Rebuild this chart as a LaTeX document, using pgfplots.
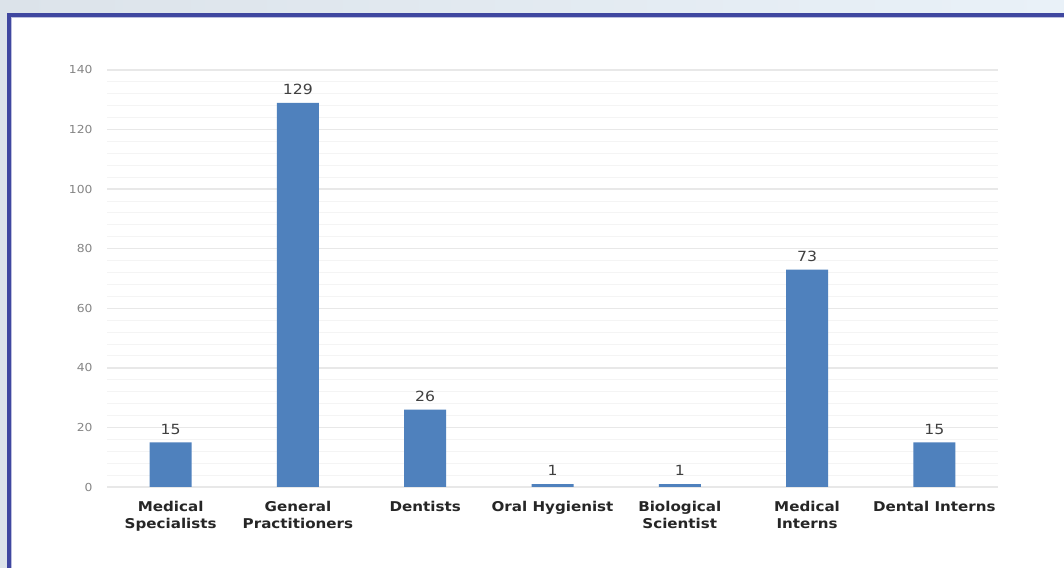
\documentclass[border=0pt]{standalone}
\usepackage{pgfplots}
\pgfplotsset{compat=1.18}
\usepackage{fontspec}
\setmainfont{DejaVu Sans}
% a wider cut of the sans face, closer to Verdana's proportions
\newfontfamily\widesans{DejaVu Sans}[FakeStretch=1.12]

\definecolor{framecol}{HTML}{3F47A0}
\definecolor{barcol}{HTML}{4F81BD}
\definecolor{bgleft}{HTML}{DCE3EA}
\definecolor{bgright}{HTML}{E9F1F8}
\definecolor{majgrid}{HTML}{E8E8E8}
\definecolor{mingrid}{HTML}{F4F4F4}
\definecolor{ticktext}{HTML}{858585}
\definecolor{valtext}{HTML}{404040}

\begin{document}
\begin{tikzpicture}[x=1pt,y=1pt]
  \useasboundingbox (0,0) rectangle (1064,567);
  % slide background and framed panel
  \shade[left color=bgleft, right color=bgright] (0,0) rectangle (1064,567);
  \fill[framecol] (7,-10) rectangle (1080,554);
  \fill[white] (11,-10) rectangle (1080,550);
  \draw[framecol!35, line width=0.8pt] (11.4,-10) -- (11.4,549.6) -- (1080,549.6);

  \begin{axis}[
    at={(107pt,80pt)}, anchor=south west,
    scale only axis,
    width=891pt, height=417pt,
    ybar, bar width=42pt,
    xmin=-0.5, xmax=6.5,
    ymin=0, ymax=140,
    ytick={0,20,...,140},
    minor y tick num=4,
    ymajorgrids, yminorgrids,
    major grid style={majgrid, line width=1.3pt},
    minor grid style={mingrid, line width=1pt},
    axis line style={draw=none},
    major tick length=0pt, minor tick length=0pt,
    xtick=data,
    xticklabels={{Medical\\Specialists},{General\\Practitioners},{Dentists},{Oral Hygienist},{Biological\\Scientist},{Medical\\Interns},{Dental Interns}},
    xticklabel style={align=center, font=\widesans\bfseries\fontsize{13.5}{17}\selectfont, text=black!85, yshift=-11pt},
    yticklabel style={font=\widesans\fontsize{11}{12}\selectfont, text=ticktext, xshift=-11pt},
    /pgf/number format/assume math mode=true,
    nodes near coords,
    every node near coord/.append style={font=\widesans\fontsize{14}{15}\selectfont, text=valtext, yshift=4.5pt},
    clip=false,
  ]
    \addplot[fill=barcol, draw=none] coordinates {
      (0,15) (1,129) (2,26) (3,1) (4,1) (5,73) (6,15)
    };
  \end{axis}
\end{tikzpicture}
\end{document}
